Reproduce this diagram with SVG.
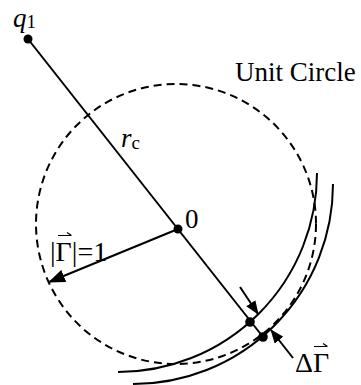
<svg xmlns="http://www.w3.org/2000/svg" width="361" height="385" viewBox="0 0 361 385">
<defs>
<style>
.ln{fill:none;stroke:#000;stroke-width:2}
.dash{fill:none;stroke:#000;stroke-width:2;stroke-dasharray:8 5}
.dot{fill:#000}
.t{font-family:"Liberation Serif","Times New Roman",serif;font-size:27px;fill:#000}
.acc{fill:none;stroke:#000;stroke-width:1.2}
</style>
<marker id="big" markerWidth="17" markerHeight="13" refX="16" refY="6.5" orient="auto" markerUnits="userSpaceOnUse"><path d="M0,0 L17,6.5 L0,13 z" fill="#000"/></marker>
<marker id="small" markerWidth="14" markerHeight="11" refX="13" refY="5.5" orient="auto" markerUnits="userSpaceOnUse"><path d="M0,0 L14,5.5 L0,11 z" fill="#000"/></marker>
</defs>
<g id="unit-circle">
<circle class="dash" cx="176" cy="224" r="140"/>
<text class="t" x="235" y="81">Unit Circle</text>
</g>
<g id="arcs">
<path class="ln" d="M317,173 A199,199 0 0 1 118,372"/>
<path class="ln" d="M333,184 A200,200 0 0 1 133,384"/>
</g>
<g id="connectors">
<line class="ln" x1="28" y1="39" x2="263" y2="337"/>
<line class="ln" x1="178" y1="229" x2="49" y2="282" marker-end="url(#big)"/>
<line class="ln" x1="240" y1="287" x2="258" y2="314" marker-end="url(#small)"/>
<line class="ln" x1="293" y1="358" x2="271" y2="330" marker-end="url(#small)"/>
</g>
<g id="q1">
<circle class="dot" cx="28" cy="39" r="4.5"/>
<text class="t" x="13" y="27"><tspan font-style="italic">q</tspan><tspan font-size="19" dy="1">1</tspan></text>
</g>
<g id="rc">
<text class="t" x="121" y="147"><tspan font-style="italic">r</tspan><tspan font-size="19" dy="2">c</tspan></text>
</g>
<g id="center">
<circle class="dot" cx="178" cy="229" r="4.5"/>
<text class="t" x="185" y="228">0</text>
</g>
<g id="gamma-label">
<text class="t" x="50" y="261" style="font-size:28px">|Γ|=1</text>
<path class="acc" d="M58,235.5 H71 M67,232.5 L71.5,235.5"/>
</g>
<g id="points">
<circle class="dot" cx="250" cy="322" r="4.8"/>
<circle class="dot" cx="263" cy="337" r="4.8"/>
</g>
<g id="delta-label">
<text class="t" x="295" y="372" style="font-size:28px">ΔΓ</text>
<path class="acc" d="M314,346.5 H327 M323,343.5 L327.5,346.5"/>
</g>
</svg>
